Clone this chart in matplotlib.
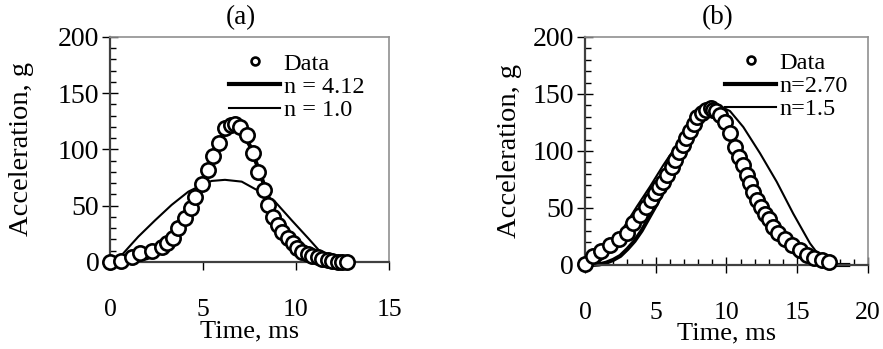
import numpy as np
import matplotlib.pyplot as plt
from matplotlib.ticker import MultipleLocator

plt.rcParams['font.family'] = ['Liberation Serif', 'DejaVu Serif']

# ---- panel (a) ----
a_t = [0, 0.59, 1.16, 1.61, 2.24, 2.78, 3.05, 3.4, 3.67, 4.03, 4.35, 4.57, 4.93,
       5.25, 5.55, 5.86, 6.2, 6.5, 6.72, 6.99, 7.35, 7.71, 7.97, 8.3, 8.51, 8.78,
       9.01, 9.26, 9.55, 9.82, 10.03, 10.34, 10.62, 10.88, 11.16, 11.41, 11.7,
       11.95, 12.24, 12.48, 12.72]
a_acc = [0, 1, 4.7, 7.7, 10, 13.6, 17, 21, 30, 39, 48, 57.5, 69, 82, 94, 105.5,
         119, 121.6, 123, 120, 113, 96.6, 80, 64, 50.7, 40, 33, 27, 21.6, 16.6,
         12, 9, 7, 5.3, 4, 3, 1.8, 1.2, 0.3, 0.3, 0.3]

a_fit1_t = [0.3, 1.0, 1.52, 2.42, 3.31, 4.21, 4.93, 5.46, 6.18, 7.08, 7.89, 8.87,
            9.77, 10.66, 11.38, 11.74]
a_fit1 = [0, 13, 22.5, 37, 50.7, 62.5, 68.4, 72, 73, 71.4, 64, 53.6, 37, 21,
          7.7, 0.3]

a_fit2_t = [0.3, 1, 1.5, 2, 2.5, 3, 3.5, 4, 4.5, 5, 5.5, 6, 6.5, 7, 7.5, 8, 8.5,
            9, 9.5, 10, 10.5, 11, 11.5, 12]
a_fit2 = [0, 0.5, 1.5, 3.5, 7, 13, 22, 35, 52, 70, 92, 111, 121, 118, 104, 82,
          58, 36, 20, 10, 4.5, 1.8, 0.5, 0]

# ---- panel (b) ----
b_t = [0, 0.54, 1.11, 1.77, 2.43, 2.94, 3.42, 3.89, 4.31, 4.64, 4.95, 5.25, 5.54,
       5.82, 6.12, 6.36, 6.67, 6.9, 7.14, 7.42, 7.7, 7.94, 8.25, 8.55, 8.9, 9.07,
       9.26, 9.54, 9.89, 10.25, 10.6, 10.9, 11.14, 11.43, 11.66, 11.9, 12.18,
       12.42, 12.72, 13.03, 13.31, 13.66, 14.13, 14.6, 15.19, 15.67, 16.18,
       16.72, 17.26]
b_acc = [1, 7.9, 12.6, 17.5, 22.5, 28.4, 36.5, 43.9, 51, 57, 62.9, 68, 73, 79,
         85.7, 92, 99.4, 105, 111, 117.8, 124, 129.5, 133.6, 136, 137.4, 136,
         135, 131.6, 125.7, 115.5, 103.8, 95, 87.7, 79, 71.6, 64.3, 57, 51, 45,
         40, 33.6, 28.4, 22.5, 17.5, 13, 8.8, 5.8, 4.4, 3]

b_fit1_t = [0.5, 1.0, 1.5, 2.0, 2.59, 3.65, 4.59, 5.54, 6.48, 7.42, 8.36, 9.02,
            9.6, 10.25, 11.19, 12.37, 13.55, 14.72, 15.9, 16.61, 17.08, 17.3]
b_fit1 = [0, 3, 8, 16, 30, 51, 68.7, 87.7, 105, 121, 134.5, 140, 139, 135, 121,
          98, 73, 45, 19, 7.3, 1.5, 0]

b_fit2_t = [0.5, 1, 1.5, 2, 2.5, 3, 3.5, 4, 4.5, 5, 5.5, 6, 6.5, 7, 7.5, 8, 8.5,
            9, 9.5, 10, 10.5, 11, 11.5, 12, 12.5, 13, 13.5, 14, 14.5, 15, 15.5,
            16, 16.5, 17, 17.5, 18, 18.6]
b_fit2 = [0, 0.5, 2, 4.5, 8, 14, 21, 30, 41, 52, 64, 77, 90, 103, 116, 127, 134,
          137, 133, 123, 108, 92, 77, 62, 49, 38, 28, 20, 13.5, 8.5, 5, 2.6, 1.2,
          0.5, 0.1, 0, 0]

panels = [
    dict(t=a_t, acc=a_acc, f2t=a_fit2_t, f2=a_fit2, f1t=a_fit1_t, f1=a_fit1,
         lab2='n = 4.12', lab1='n = 1.0', title='(a)', xmax=15, xminor=False,
         rect=[0.1246, 0.2493, 0.316, 0.645], leg=(0.4265, 0.93), ylx=-0.272),
    dict(t=b_t, acc=b_acc, f2t=b_fit2_t, f2=b_fit2, f1t=b_fit1_t, f1=b_fit1,
         lab2='n=2.70', lab1='n=1.5', title='(b)', xmax=20, xminor=True,
         rect=[0.6625, 0.2407, 0.3205, 0.6533], leg=(0.495, 0.935), ylx=-0.223),
]

fig = plt.figure(figsize=(8.83, 3.49), dpi=100)

for p in panels:
    ax = fig.add_axes(p['rect'])
    ax.plot(p['f2t'], p['f2'], color='black', lw=3, label=p['lab2'], zorder=2,
            clip_on=False)
    ax.plot(p['f1t'], p['f1'], color='black', lw=1.5, label=p['lab1'], zorder=2,
            clip_on=False)
    ax.plot(p['t'], p['acc'], 'o', ms=10.3, mfc='white', mec='black', mew=1.9,
            label='Data', zorder=3, clip_on=False)

    ax.set_xlim(0, p['xmax'])
    ax.set_ylim(0, 200)
    ax.xaxis.set_major_locator(MultipleLocator(5))
    ax.yaxis.set_major_locator(MultipleLocator(50))
    ax.yaxis.set_minor_locator(MultipleLocator(10))
    if p['xminor']:
        ax.xaxis.set_minor_locator(MultipleLocator(1))
        ax.tick_params(axis='x', which='major', direction='inout', length=11.5,
                       width=1, pad=21)
        ax.tick_params(axis='x', which='minor', direction='in', length=4, width=1)
    else:
        ax.tick_params(axis='x', which='major', direction='out', length=6,
                       width=1, pad=21)
    ax.tick_params(axis='y', which='major', direction='inout', length=11.5,
                   width=1, pad=2)
    ax.tick_params(axis='y', which='minor', direction='in', length=4.3, width=1)
    ax.tick_params(axis='x', labelsize=18.5)
    ax.tick_params(axis='y', labelsize=20)

    for s in ['left', 'bottom']:
        ax.spines[s].set_color('#404040')
        ax.spines[s].set_linewidth(1.6)
    for s in ['top', 'right']:
        ax.spines[s].set_color('#909090')
        ax.spines[s].set_linewidth(1.2)

    ax.set_title(p['title'], fontsize=19.5, x=0.47, pad=9)
    ax.set_xlabel('Time, ms', fontsize=19, labelpad=-1)
    ax.set_ylabel('Acceleration, g', fontsize=20.5)
    ax.yaxis.set_label_coords(p['ylx'], 0.5)

    h, l = ax.get_legend_handles_labels()
    ax.legend([h[2], h[0], h[1]], [l[2], l[0], l[1]], loc='upper left',
              bbox_to_anchor=p['leg'], frameon=False, fontsize=17.5,
              handlelength=2.1, handletextpad=0.15, labelspacing=0.05,
              borderpad=0, borderaxespad=0, markerscale=0.55)

plt.savefig('out.png', dpi=100)
